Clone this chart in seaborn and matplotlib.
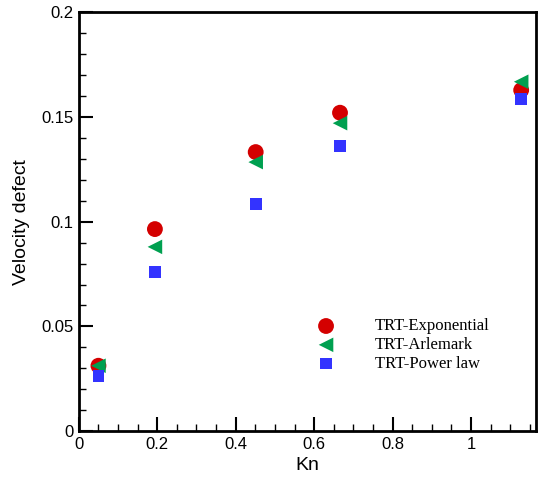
import numpy as np
import pandas as pd
import matplotlib
matplotlib.use("Agg")
import matplotlib.pyplot as plt
import seaborn as sns
from matplotlib.ticker import MultipleLocator

# Daten
kn = [0.05, 0.194, 0.451, 0.666, 1.128]
exponential = [0.0312, 0.0965, 0.1333, 0.1521, 0.1629]
arlemark = [0.0312, 0.0880, 0.1285, 0.1471, 0.1669]
power_law = [0.0263, 0.0760, 0.1084, 0.1361, 0.1586]

series_names = ["TRT-Exponential", "TRT-Arlemark", "TRT-Power law"]
colors = ["#d40000", "#00a050", "#3333ff"]
markers = ["o", "<", "s"]
sizes = [130, 110, 70]

df = pd.DataFrame({
    "Kn": kn * 3,
    "defect": exponential + arlemark + power_law,
    "model": sum([[n] * len(kn) for n in series_names], []),
})

sns.set_style("ticks", {"axes.edgecolor": "black", "xtick.color": "black",
                        "ytick.color": "black", "text.color": "black",
                        "axes.labelcolor": "black"})
plt.rcParams["font.family"] = ["Liberation Sans", "DejaVu Sans"]

fig = plt.figure(figsize=(5.4, 4.8), dpi=100)
ax = fig.add_axes([0.146, 0.102, 0.846, 0.872])

for name, c, m, s in zip(series_names, colors, markers, sizes):
    sub = df[df["model"] == name]
    sns.scatterplot(data=sub, x="Kn", y="defect", ax=ax, color=c, marker=m,
                    s=s, edgecolor="none", label=name, zorder=3)

ax.set_xlim(0, 1.165)
ax.set_ylim(0, 0.2)
ax.set_xticks([0, 0.2, 0.4, 0.6, 0.8, 1.0])
ax.set_xticklabels(["0", "0.2", "0.4", "0.6", "0.8", "1"])
ax.set_yticks([0, 0.05, 0.1, 0.15, 0.2])
ax.set_yticklabels(["0", "0.05", "0.1", "0.15", "0.2"])
ax.xaxis.set_minor_locator(MultipleLocator(0.05))
ax.yaxis.set_minor_locator(MultipleLocator(0.01))

ax.tick_params(which="major", direction="in", length=10, width=1.5,
               labelsize=12, top=False, right=False, pad=4, colors="black")
ax.tick_params(which="minor", direction="in", length=5, width=1,
               top=False, right=False, colors="black")
for sp in ax.spines.values():
    sp.set_linewidth(2)
    sp.set_visible(True)
    sp.set_color("black")

ax.set_xlabel("Kn", fontsize=14, labelpad=4)
ax.set_ylabel("Velocity defect", fontsize=14, labelpad=8)

leg = ax.legend(loc="upper left", bbox_to_anchor=(0.49, 0.305), frameon=False,
                handlelength=1.0, handletextpad=2.45, labelspacing=0.17,
                prop={"family": "Liberation Serif", "size": 12})

fig.savefig("out.png", dpi=100)
